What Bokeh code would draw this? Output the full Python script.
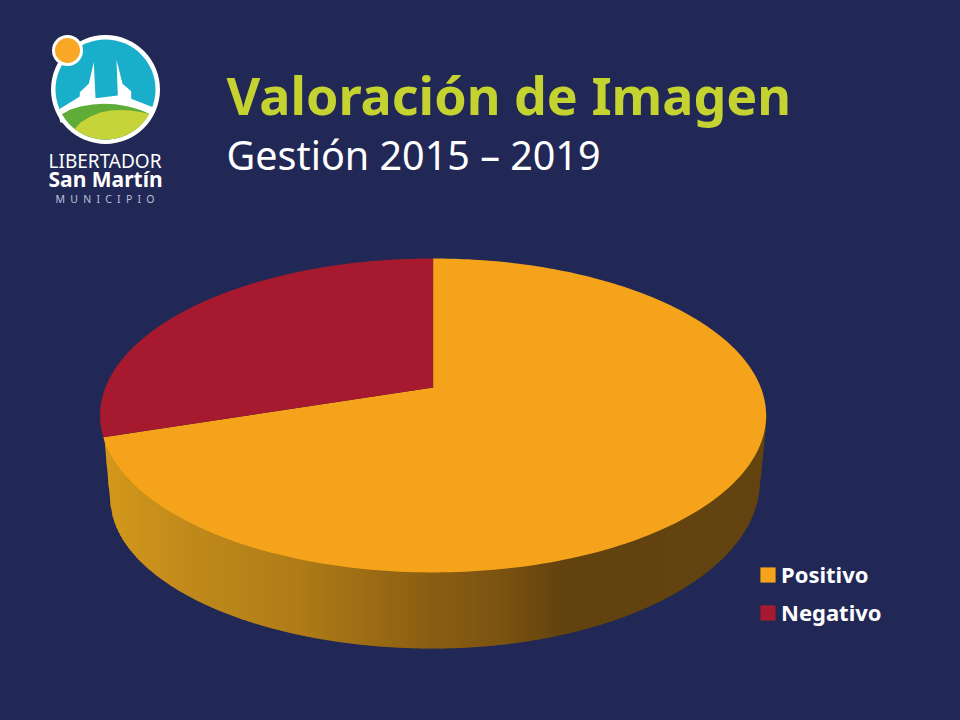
import numpy as np
from bokeh.plotting import figure
from bokeh.models import Range1d, Legend, LegendItem
from bokeh.core.properties import value
from bokeh.embed import file_html
from bokeh.resources import INLINE

# ---- data
categories = ["Positivo", "Negativo"]
values = [70, 30]
slice_colors = ["#F4A31A", "#A6192E"]

title_text = "Valoración de Imagen"
subtitle_text = "Gestión 2015 – 2019"
logo_lines = ["LIBERTADOR", "San Martín", "M\u2002U\u2002N\u2002I\u2002C\u2002I\u2002P\u2002I\u2002O"]

BG = "#222855"
FONT = value("Noto Sans")

# ---- page: reference pixels are used as data units
p = figure(width=960, height=720, output_backend="svg", toolbar_location=None,
           x_range=Range1d(0, 960), y_range=Range1d(720, 0),
           x_axis_type=None, y_axis_type=None,
           background_fill_color=BG, border_fill_color=BG, min_border=0)
p.grid.visible = False
p.outline_line_color = None

# ---- 3D pie geometry (perspective disc)
CX, CY = 432.6, 387
K, A, B = -0.178, 152, 327.7


def rim(theta_deg):
    t = np.radians(theta_deg)
    u, v = np.sin(t), -np.cos(t)
    w = 1 + K * v
    return CX + B * u / w, CY + A * v / w


# side wall
ELL_Y, ELL_RX, ELL_RY = 415, 333, 157
def top_front(x):
    return ELL_Y + ELL_RY * np.sqrt(np.clip(1 - ((x - CX) / ELL_RX) ** 2, 0, 1))

def bottom_front(x):
    x = np.asarray(x, float)
    left = 497 + 151 * np.sqrt(np.clip(1 - ((x - CX) / 323) ** 2, 0, 1))
    right = 480 + 168 * np.sqrt(np.clip(1 - ((x - CX) / 327) ** 2, 0, 1))
    out = np.where(x < CX, left, right)
    out = np.where(x < 110, 439 + (x - 104) / 6 * (505 - 439), out)
    out = np.where(x > 760, 480 + (x - 760) / 6 * (420 - 480), out)
    return out

grad_x = [104, 190, 300, 433, 500, 565, 766]
grad_r = [212, 192, 176, 138, 124, 98, 100]
grad_g = [152, 138, 124, 94, 84, 66, 68]
grad_b = [28, 27, 24, 18, 18, 15, 15]

edges = np.arange(104, 767, 2.0)
xs, ys, cols = [], [], []
for a, b in zip(edges[:-1], edges[1:]):
    m = (a + b) / 2
    b2 = min(b + 0.7, 766)
    xs.append([a, b2, b2, a])
    ys.append([top_front(a) - 4, top_front(b2) - 4, float(bottom_front(b2)), float(bottom_front(a))])
    cols.append("#%02x%02x%02x" % (int(np.interp(m, grad_x, grad_r)),
                                   int(np.interp(m, grad_x, grad_g)),
                                   int(np.interp(m, grad_x, grad_b))))
p.patches(xs, ys, fill_color=cols, line_color=None)

# top slices
cum = np.cumsum([0] + values) / sum(values) * 360
renderers = []
for i, name in enumerate(categories):
    th = np.linspace(cum[i], cum[i + 1], 241)
    x, y = rim(th)
    r = p.patch(np.r_[CX, x], np.r_[CY, y], fill_color=slice_colors[i], line_color=None)
    renderers.append(r)

# legend
legend = Legend(items=[LegendItem(label=c, renderers=[r]) for c, r in zip(categories, renderers)],
                location=(758, 93), orientation="vertical",
                background_fill_alpha=0, border_line_color=None,
                label_text_color="white", label_text_font="Noto Sans", label_text_font_style="bold",
                label_text_font_size="22px", glyph_width=19, glyph_height=19,
                label_standoff=4, label_height=24, spacing=8, padding=0, margin=0)
p.add_layout(legend)

# titles
p.text([226], [94], text=[title_text], text_color="#C4D32F", text_font=FONT,
       text_font_style="bold", text_font_size="52px", text_baseline="alphabetic")
p.text([226], [154], text=[subtitle_text], text_color="white", text_font=FONT,
       text_font_size="39.5px", text_baseline="alphabetic")

# ---- logo
LX, LY = 105, 89
p.circle([LX], [LY], radius=54.5, fill_color="white", line_color=None)
p.circle([LX], [LY], radius=50, fill_color="#19AFCA", line_color=None)

mon_x = [56.7, 79.3, 79.3, 88.3, 93.3, 95, 117.3, 116, 122, 130.7, 130.7, 153, 148, 105, 60]
mon_y = [110, 96, 91.7, 83.3, 61.7, 97.7, 95, 59.3, 83.3, 90.7, 98.3, 107, 122, 125, 122]
p.patch(mon_x, mon_y, fill_color="white", line_color=None)

def disc_pt(deg, r=50):
    t = np.radians(deg)
    return LX + r * np.cos(t), LY + r * np.sin(t)

# dark hill
arc_x, arc_y = disc_pt(np.linspace(29, 150, 60))
hill_top_x = [61.7, 70, 80, 92, 103, 115, 128, 140, 148.7]
hill_top_y = [113.6, 109, 106, 104, 103.2, 103.8, 106, 109.5, 113.2]
p.patch(np.r_[hill_top_x, arc_x], np.r_[hill_top_y, arc_y], fill_color="#5FAC38", line_color=None)
# light hill
arc_x2, arc_y2 = disc_pt(np.linspace(29, 128, 60))
light_top_x = [74.2, 80, 90, 100, 110, 120, 130, 140, 148.7]
light_top_y = [128.4, 122, 116, 112, 110, 109.5, 110, 111.5, 113.4]
p.patch(np.r_[light_top_x, arc_x2], np.r_[light_top_y, arc_y2], fill_color="#C6D43A", line_color=None)

p.circle([67], [50], radius=15.5, fill_color="white", line_color=None)
p.circle([67], [50], radius=12.5, fill_color="#F9A825", line_color=None)

p.text([48], [160], text=[logo_lines[0]], text_color="white", text_font=FONT,
       text_font_size="19px", text_baseline="alphabetic")
p.text([48], [178], text=[logo_lines[1]], text_color="white", text_font=FONT,
       text_font_style="bold", text_font_size="21px", text_baseline="alphabetic")
p.text([55], [198.5], text=[logo_lines[2]], text_color="#BAC0DC", text_font=FONT,
       text_font_size="10.5px", text_baseline="alphabetic")

html = file_html(p, INLINE)
html = html.replace("</head>", "<style>html,body{background:%s;}</style></head>" % BG, 1)
open("out.html", "w").write(html)
